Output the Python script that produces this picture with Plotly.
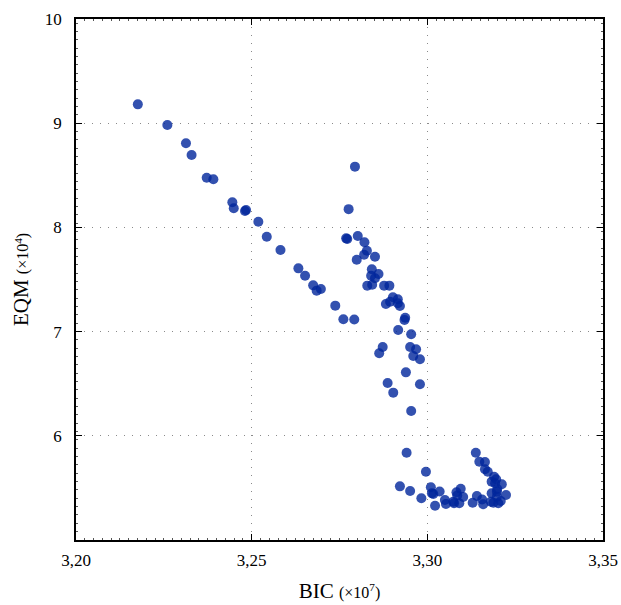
import plotly.graph_objects as go

bic = [3.2176, 3.2260, 3.2313, 3.2329, 3.2372, 3.2391, 3.2445, 3.2449, 3.2481, 3.2484,
       3.2519, 3.2543, 3.2582, 3.2633, 3.2652, 3.2675, 3.2685, 3.2697, 3.2738, 3.2761,
       3.2792, 3.2794, 3.2776, 3.2769, 3.2772, 3.2802, 3.2821, 3.2828, 3.2820, 3.2799,
       3.2851, 3.2842, 3.2840, 3.2861, 3.2851, 3.2829, 3.2843, 3.2877, 3.2892, 3.2902,
       3.2916, 3.2882, 3.2894, 3.2916, 3.2922, 3.2937, 3.2935, 3.2917, 3.2954, 3.2873,
       3.2863, 3.2951, 3.2968, 3.2960, 3.2979, 3.2939, 3.2887, 3.2979, 3.2903, 3.2954,
       3.2941, 3.2996, 3.2922, 3.2951, 3.2983, 3.3010, 3.3013, 3.3017, 3.3022, 3.3035,
       3.3050, 3.3053, 3.3074, 3.3083, 3.3085, 3.3095, 3.3102, 3.3091, 3.3076, 3.3129,
       3.3141, 3.3156, 3.3159, 3.3138, 3.3148, 3.3164, 3.3164, 3.3172, 3.3190, 3.3196,
       3.3183, 3.3193, 3.3212, 3.3183, 3.3198, 3.3199, 3.3224, 3.3188, 3.3202, 3.3209,
       3.3181, 3.3198]

eqm = [9.181, 8.982, 8.807, 8.695, 8.477, 8.462, 8.241, 8.183, 8.157, 8.167,
       8.055, 7.911, 7.783, 7.607, 7.536, 7.444, 7.393, 7.409, 7.249, 7.118,
       7.116, 8.583, 8.175, 7.895, 7.889, 7.917, 7.857, 7.776, 7.738, 7.690,
       7.719, 7.598, 7.536, 7.553, 7.512, 7.441, 7.450, 7.441, 7.441, 7.329,
       7.310, 7.265, 7.287, 7.272, 7.246, 7.133, 7.111, 7.015, 6.974, 6.852,
       6.792, 6.852, 6.830, 6.766, 6.734, 6.609, 6.507, 6.494, 6.414, 6.238,
       5.837, 5.655, 5.515, 5.470, 5.401, 5.506, 5.448, 5.441, 5.329, 5.465,
       5.384, 5.345, 5.368, 5.458, 5.427, 5.492, 5.413, 5.352, 5.352, 5.358,
       5.422, 5.388, 5.343, 5.838, 5.751, 5.749, 5.679, 5.655, 5.607, 5.583,
       5.560, 5.544, 5.535, 5.448, 5.464, 5.489, 5.432, 5.358, 5.352, 5.374,
       5.368, 5.416]

x_ticks = [3.20, 3.25, 3.30, 3.35]
x_tick_labels = ["3,20", "3,25", "3,30", "3,35"]
y_ticks = [6, 7, 8, 9, 10]
y_tick_labels = ["6", "7", "8", "9", "10"]

fig = go.Figure()
fig.add_trace(go.Scatter(
    x=bic, y=eqm, mode="markers",
    marker=dict(size=10, color="rgba(0,38,155,0.8)", line=dict(width=0)),
    showlegend=False,
))

font_family = "Liberation Serif, DejaVu Serif, serif"
grid_dash = "1px,7px"

fig.update_layout(
    width=621, height=605,
    margin=dict(l=76, r=18, t=19, b=65),
    paper_bgcolor="white", plot_bgcolor="white",
    font=dict(family=font_family, size=17, color="black"),
    xaxis=dict(
        range=[3.20, 3.35], tickvals=x_ticks, ticktext=x_tick_labels,
        ticks="inside", ticklen=6, tickwidth=1.3, tickcolor="black",
        showline=True, linecolor="black", linewidth=1.5, mirror="ticks",
        showgrid=True, gridcolor="#8a8a8a", gridwidth=1, griddash=grid_dash,
        zeroline=False, tickfont=dict(size=17), automargin=False,
        ticklabelstandoff=4,
        minor=dict(dtick=0.0025, ticks="inside", ticklen=2, tickcolor="#555", showgrid=False),
        title=dict(text="BIC <span style='font-size:16px'>(×10<sup>7</sup>)</span>",
                   font=dict(size=21), standoff=14),
    ),
    yaxis=dict(
        range=[5, 10], tickvals=y_ticks, ticktext=y_tick_labels,
        ticks="inside", ticklen=6, tickwidth=1.3, tickcolor="black",
        showline=True, linecolor="black", linewidth=1.5, mirror="ticks",
        showgrid=True, gridcolor="#8a8a8a", gridwidth=1, griddash=grid_dash,
        zeroline=False, tickfont=dict(size=17), automargin=False,
        ticklabelstandoff=9,
        minor=dict(dtick=0.08, tick0=5, ticks="inside", ticklen=2, tickcolor="#555", showgrid=False),
        title=dict(text="EQM <span style='font-size:16px'>(×10<sup>4</sup>)</span>",
                   font=dict(size=21), standoff=10),
    ),
)

fig.write_html(
    "out.html",
    config={"displayModeBar": False},
    post_script="document.body.style.margin='0';document.body.style.overflow='hidden';",
)
